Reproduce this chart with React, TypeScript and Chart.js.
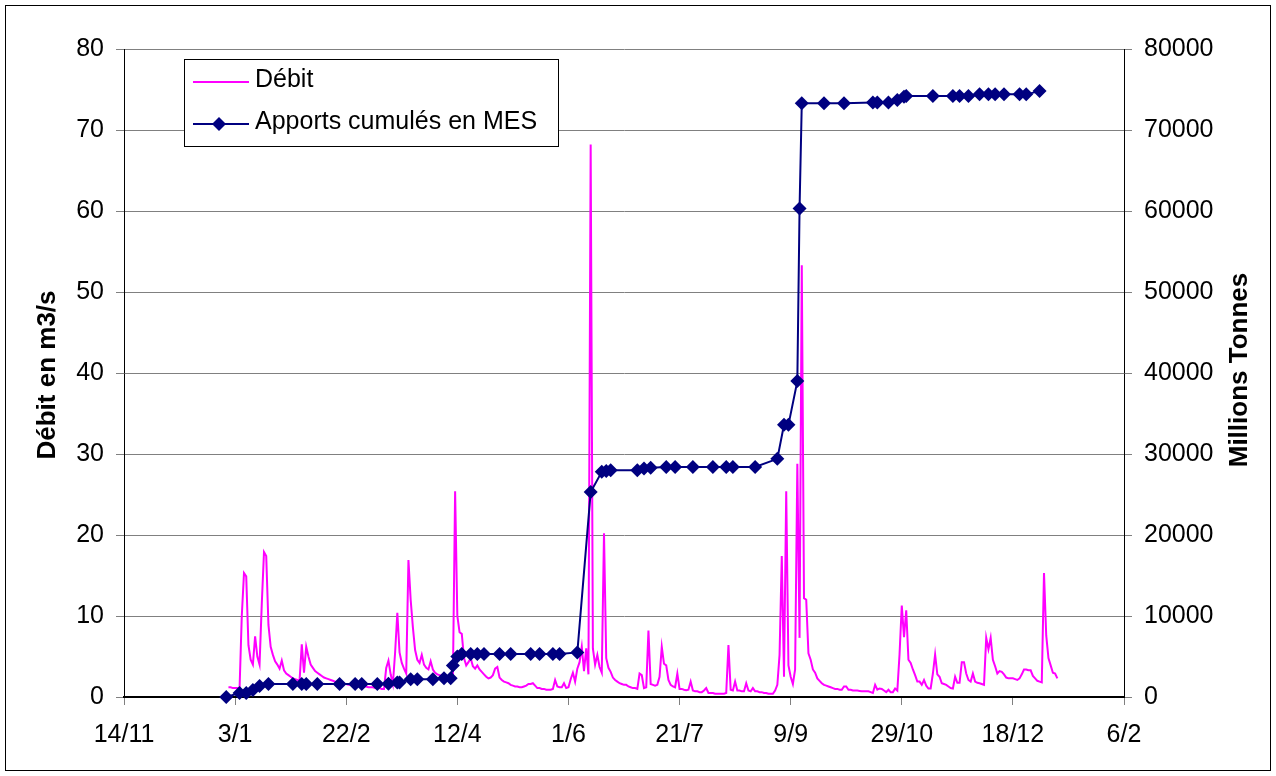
import React, { useEffect, useRef } from 'react';
import { Chart, registerables } from 'chart.js';

Chart.register(...registerables);

// x axis: days counted from 14/11, one tick every 50 days
const xTickLabels = ['14/11', '3/1', '22/2', '12/4', '1/6', '21/7', '9/9', '29/10', '18/12', '6/2'];

// Débit (m3/s), one value per day starting at day 47
const debitStartDay = 47;
const debitValues = [
  1.2, 1.2, 1.1, 1.1, 1.1, 1.0, 10.0, 15.3, 14.9, 6.4,
  4.6, 4.0, 7.5, 5.0, 4.0, 11.5, 17.9, 17.4, 8.9, 6.2,
  5.2, 4.4, 4.0, 3.5, 4.5, 3.3, 2.9, 2.7, 2.5, 2.3,
  2.2, 2.1, 2.0, 6.5, 3.0, 6.2, 5.0, 4.0, 3.6, 3.2,
  3.0, 2.8, 2.6, 2.4, 2.3, 2.2, 2.1, 2.0, 1.9, 1.8,
  1.8, 1.7, 1.6, 1.6, 1.5, 1.5, 1.5, 1.4, 1.4, 1.4,
  1.3, 1.3, 1.3, 1.2, 1.2, 1.2, 1.1, 1.1, 1.1, 1.0,
  1.0, 3.6, 4.5, 2.8, 1.6, 5.5, 10.4, 5.5, 4.2, 3.5,
  2.9, 16.9, 12.0, 8.6, 5.8, 4.6, 4.2, 5.2, 4.0, 3.6,
  3.4, 4.4, 3.4, 3.0, 2.8, 2.7, 2.6, 2.5, 2.4, 2.3,
  2.2, 2.1, 25.4, 10.0, 8.0, 7.8, 4.8, 3.9, 4.3, 4.8,
  3.8, 3.5, 3.9, 3.4, 3.1, 2.8, 2.5, 2.3, 2.4, 2.7,
  3.5, 3.7, 2.4, 2.1, 1.9, 1.8, 1.7, 1.5, 1.4, 1.3,
  1.3, 1.2, 1.2, 1.3, 1.4, 1.6, 1.6, 1.7, 1.4, 1.1,
  1.1, 1.0, 1.0, 0.9, 0.9, 0.9, 1.0, 2.1, 1.3, 1.2,
  1.2, 1.7, 1.1, 1.2, 2.2, 3.0, 1.9, 3.5, 4.3, 6.2,
  3.2, 6.0, 2.8, 68.2, 6.0, 4.0, 5.2, 3.7, 3.0, 20.2,
  4.8, 3.6, 3.1, 2.4, 2.1, 1.9, 1.7, 1.6, 1.5, 1.5,
  1.3, 1.2, 1.1, 1.1, 1.0, 2.9, 2.7, 1.1, 1.2, 8.2,
  1.6, 1.5, 1.4, 1.5, 2.5, 6.2, 4.1, 3.9, 2.1, 1.5,
  1.3, 1.2, 2.9, 1.0, 1.0, 0.9, 0.85, 0.9, 1.9, 0.8,
  0.7, 0.7, 0.6, 0.6, 0.8, 1.1, 0.5, 0.5, 0.5, 0.4,
  0.4, 0.4, 0.4, 0.4, 0.5, 6.4, 0.9, 0.8, 1.9, 0.8,
  0.8, 0.7, 0.7, 1.7, 0.8, 0.7, 1.1, 0.7, 0.7, 0.6,
  0.6, 0.5, 0.5, 0.4, 0.4, 0.4, 0.8, 1.5, 5.2, 17.4,
  2.5, 25.4, 3.9, 2.5, 1.6, 3.4, 28.8, 7.3, 53.3, 12.2,
  12.0, 5.4, 4.6, 3.4, 3.0, 2.3, 2.0, 1.7, 1.5, 1.4,
  1.3, 1.2, 1.1, 1.0, 1.0, 0.9, 0.9, 1.3, 1.3, 0.9,
  0.9, 0.8, 0.8, 0.8, 0.75, 0.7, 0.7, 0.7, 0.7, 0.6,
  0.5, 1.5, 0.9, 1.05, 1.0, 0.8, 0.6, 0.9, 0.6, 0.6,
  1.05, 0.8, 5.3, 11.3, 7.4, 10.7, 4.6, 4.2, 3.4, 2.7,
  1.9, 1.9, 1.5, 2.1, 1.4, 1.05, 1.05, 2.9, 5.25, 2.8,
  2.5, 1.7, 1.6, 1.5, 1.3, 1.1, 1.05, 2.5, 1.75, 1.75,
  4.3, 4.3, 2.9, 2.1, 1.9, 2.9, 1.9, 1.75, 1.7, 1.6,
  1.5, 7.3, 5.9, 7.3, 4.6, 3.8, 2.9, 3.2, 3.1, 2.8,
  2.4, 2.3, 2.3, 2.3, 2.2, 2.1, 2.3, 2.8, 3.4, 3.4,
  3.3, 3.3, 2.6, 2.3, 2.0, 1.9, 1.8, 15.3, 7.6, 4.8,
  3.9, 3.0, 2.9, 2.3,
];

// Apports cumulés en MES (Millions Tonnes)
const mesDays = [
  46, 52, 55, 58, 61, 65, 76, 80, 82, 87,
  97, 104, 107, 114, 119, 123, 124, 129, 132, 139,
  144, 147, 148, 150, 152, 156, 159, 162, 169, 174,
  183, 187, 193, 196, 204, 210, 215, 217, 219, 231,
  234, 237, 244, 248, 256, 265, 271, 274, 284, 294,
  297, 299, 303, 304, 305, 315, 324, 337, 339, 344,
  348, 351, 352, 364, 373, 376, 380, 385, 389, 392,
  396, 403, 406, 412,
];
const mesValues = [
  0, 500, 500, 860, 1360, 1600, 1600, 1600, 1600, 1600,
  1600, 1600, 1600, 1600, 1650, 1800, 1800, 2200, 2200, 2200,
  2300, 2300, 3900, 5000, 5300, 5300, 5300, 5300, 5300, 5300,
  5300, 5300, 5300, 5300, 5500, 25300, 27800, 27900, 28000, 28000,
  28200, 28300, 28400, 28400, 28400, 28400, 28400, 28400, 28400, 29400,
  33600, 33600, 39000, 60300, 73300, 73300, 73300, 73400, 73400, 73400,
  73700, 74100, 74200, 74200, 74200, 74200, 74200, 74400, 74400, 74400,
  74400, 74400, 74400, 74800,
];

const FONT = "'Liberation Sans', Arial, sans-serif";

const decorPlugin = {
  id: 'decor',
  afterDraw(chart: any) {
    const ctx = chart.ctx as CanvasRenderingContext2D;
    ctx.save();
    // outer frame
    ctx.strokeStyle = '#000';
    ctx.lineWidth = 1;
    ctx.strokeRect(5.5, 5.5, 1265, 765);

    // axis titles
    ctx.fillStyle = '#000';
    ctx.font = `bold 26px ${FONT}`;
    ctx.textAlign = 'center';
    ctx.textBaseline = 'middle';
    ctx.save();
    ctx.translate(48, 375);
    ctx.rotate(-Math.PI / 2);
    ctx.fillText('Débit en m3/s', 0, 0);
    ctx.restore();
    ctx.save();
    ctx.translate(1240, 370);
    ctx.rotate(-Math.PI / 2);
    ctx.fillText('Millions Tonnes', 0, 0);
    ctx.restore();

    // legend
    ctx.fillStyle = '#fff';
    ctx.fillRect(184, 59, 374, 87);
    ctx.strokeStyle = '#000';
    ctx.lineWidth = 1;
    ctx.strokeRect(184.5, 59.5, 374, 87);

    ctx.lineWidth = 2;
    ctx.strokeStyle = '#FF00FF';
    ctx.beginPath();
    ctx.moveTo(193, 82);
    ctx.lineTo(249, 82);
    ctx.stroke();

    ctx.strokeStyle = '#000080';
    ctx.beginPath();
    ctx.moveTo(193, 124);
    ctx.lineTo(249, 124);
    ctx.stroke();
    ctx.fillStyle = '#000080';
    const r = 7;
    ctx.beginPath();
    ctx.moveTo(219 - r, 124);
    ctx.lineTo(219, 124 - r);
    ctx.lineTo(219 + r, 124);
    ctx.lineTo(219, 124 + r);
    ctx.closePath();
    ctx.fill();

    ctx.fillStyle = '#000';
    ctx.font = `25px ${FONT}`;
    ctx.textAlign = 'left';
    ctx.textBaseline = 'middle';
    ctx.fillText('Débit', 255, 80);
    ctx.fillText('Apports cumulés en MES', 255, 122);
    ctx.restore();
  },
};

export default function App() {
  const canvasRef = useRef<HTMLCanvasElement | null>(null);

  useEffect(() => {
    const canvas = canvasRef.current;
    if (!canvas) return;
    const tickFont = { family: FONT, size: 25 };

    const chart = new Chart(canvas, {
      type: 'line',
      data: {
        datasets: [
          {
            label: 'Apports cumulés en MES',
            data: mesDays.map((d, i) => ({ x: d, y: mesValues[i] })),
            yAxisID: 'y1',
            borderColor: '#000080',
            backgroundColor: '#000080',
            borderWidth: 2,
            pointStyle: 'rectRot',
            pointRadius: 7,
            pointBorderWidth: 0,
            pointBackgroundColor: '#000080',
            tension: 0,
            clip: false,
            order: 0,
          },
          {
            label: 'Débit',
            data: debitValues.map((v, i) => ({ x: debitStartDay + i, y: v })),
            yAxisID: 'y',
            borderColor: '#FF00FF',
            backgroundColor: '#FF00FF',
            borderWidth: 2,
            pointRadius: 0,
            tension: 0,
            order: 1,
          },
        ],
      } as any,
      options: {
        animation: false,
        responsive: false,
        maintainAspectRatio: false,
        events: [],
        layout: { padding: { top: 49, left: 0, right: 0, bottom: 0 } },
        plugins: {
          legend: { display: false },
          tooltip: { enabled: false },
          title: { display: false },
        },
        scales: {
          x: {
            type: 'linear',
            min: 0,
            max: 450,
            ticks: {
              stepSize: 50,
              autoSkip: false,
              maxRotation: 0,
              color: '#000',
              font: tickFont,
              padding: 15,
              callback: (v: any) => xTickLabels[Math.round(Number(v) / 50)] ?? '',
            },
            grid: { drawOnChartArea: false, tickLength: 8, color: '#808080' },
            border: { color: '#000', width: 2 },
            afterFit: (s: any) => { s.height = 79; },
          },
          y: {
            position: 'left',
            min: 0,
            max: 80,
            ticks: { stepSize: 10, color: '#000', font: tickFont, padding: 12 },
            grid: { color: '#808080', tickLength: 8, lineWidth: 1 },
            border: { color: '#000', width: 1 },
            afterFit: (s: any) => { s.width = 124; },
          },
          y1: {
            position: 'right',
            min: 0,
            max: 80000,
            ticks: {
              stepSize: 10000,
              color: '#000',
              font: tickFont,
              padding: 12,
              callback: (v: any) => String(v),
            },
            grid: { drawOnChartArea: false, tickLength: 8, color: '#808080' },
            border: { color: '#000', width: 1 },
            afterFit: (s: any) => { s.width = 152; },
          },
        },
      } as any,
      plugins: [decorPlugin],
    });

    return () => chart.destroy();
  }, []);

  return (
    <div style={{ position: 'absolute', left: 0, top: 0, width: 1276, height: 776, background: '#fff' }}>
      <canvas ref={canvasRef} width={1276} height={776} style={{ display: 'block', width: 1276, height: 776 }} />
    </div>
  );
}
